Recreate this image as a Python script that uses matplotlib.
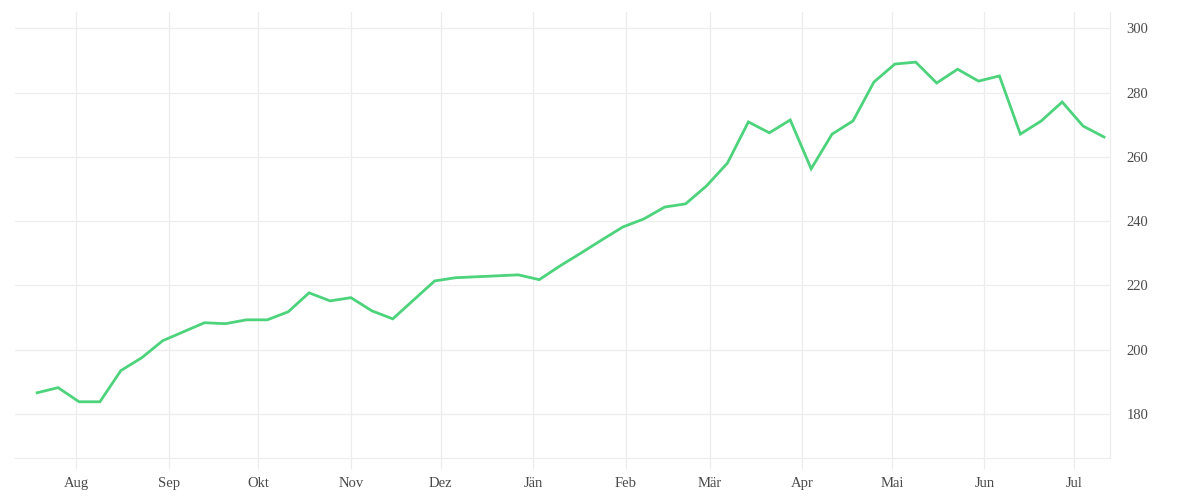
import matplotlib.pyplot as plt
import pandas as pd

# weekly values, starting 19 Jul 2022
start_date = "2022-07-19"
values = [186.6, 188.2, 183.8, 183.8, 193.5, 197.5, 202.8, 205.6, 208.4, 208.1,
          209.3, 209.3, 211.8, 217.7, 215.2, 216.2, 212.1, 209.6, 215.5, 221.4,
          222.4, 222.7, 223.0, 223.3, 221.8, 226.1, 230.1, 234.2, 238.2, 240.7,
          244.4, 245.4, 251.0, 258.1, 270.9, 267.5, 271.5, 256.3, 267.1, 271.2,
          283.3, 288.9, 289.5, 283.0, 287.3, 283.6, 285.2, 267.1, 271.2, 277.1,
          269.6, 266.2]
month_labels = ["Aug", "Sep", "Okt", "Nov", "Dez", "Jän", "Feb", "Mär", "Apr", "Mai", "Jun", "Jul"]
y_ticks = [180, 200, 220, 240, 260, 280, 300]

dates = pd.date_range(start_date, periods=len(values), freq="7D")
month_ticks = pd.date_range("2022-08-01", periods=len(month_labels), freq="MS")

grid_col = "#ededed"
text_col = "#4a4a4a"

fig = plt.figure(figsize=(12, 5), dpi=100)
ax = fig.add_axes([0.0125, 0.084, 0.9125, 0.892])

ax.plot(dates, values, color="#4cd37b", linewidth=2.0, solid_joinstyle="miter")

ax.set_xlim(pd.Timestamp("2022-07-11 14:00"), pd.Timestamp("2023-07-13"))
ax.set_ylim(166.3, 305.1)

ax.set_xticks(month_ticks)
ax.set_xticklabels(month_labels)
ax.set_yticks(y_ticks)

ax.yaxis.tick_right()
ax.grid(True, color=grid_col, linewidth=0.9)
ax.set_axisbelow(True)

for side in ["top", "left"]:
    ax.spines[side].set_visible(False)
for side in ["bottom", "right"]:
    ax.spines[side].set_color(grid_col)
    ax.spines[side].set_linewidth(0.9)

ax.tick_params(axis="x", length=8, width=0.9, color=grid_col, pad=6,
               labelsize=10.5, labelcolor=text_col)
ax.tick_params(axis="y", length=0, pad=12, labelsize=10.5, labelcolor=text_col)
for lbl in ax.get_xticklabels() + ax.get_yticklabels():
    lbl.set_family("Liberation Serif")

plt.savefig("out.png", dpi=100)
